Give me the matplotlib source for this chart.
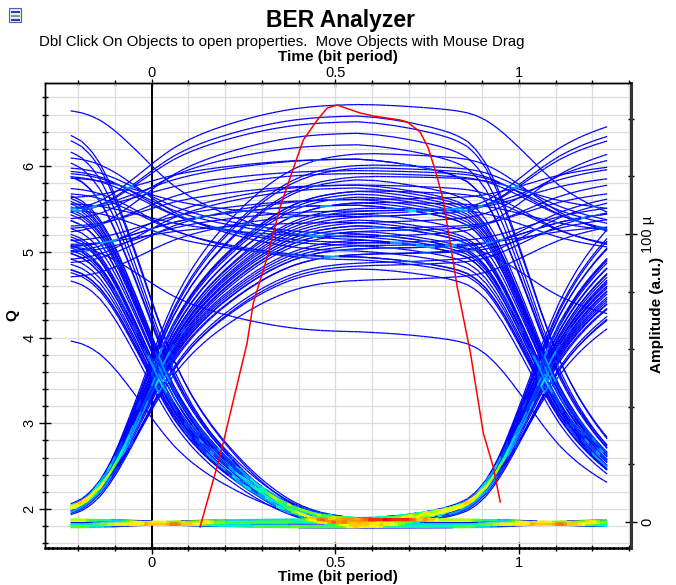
import numpy as np
import matplotlib.pyplot as plt
from matplotlib.collections import LineCollection
from matplotlib.colors import LinearSegmentedColormap, LogNorm
from matplotlib.patches import Rectangle
from matplotlib.ticker import MultipleLocator

plt.rcParams['font.family'] = ['Liberation Sans', 'DejaVu Sans']

# received amplitude of every bit, in transmission order (µ a.u.)
bit_levels = [
    118, 0.4, 104, 131, -1.4, 0.9, 97, 112, 126, -0.3,
    101, -1.9, 0.5, -0.6, 93, 108, 122, 99, 1.0, -1.1,
    115, 0.1, 88, -1.7, 106, 139, 1.2, 95, 110, -0.9,
    0.7, -2.1, 0.3, 102, 117, 91, -0.8, 124, 100, 1.1,
    96, -1.5, 0.2, 113, 1.3, 84, 107, 145, 98, -1.2,
    -0.1, -1.8, 109, 92, 0.6, 119, -0.5, 103, 0.8, -1.3,
    128, 94, -0.2, 111, 99, 135, -1.6, 1.0, -0.4, 105,
    -1.0, 90, 116, 0.6, -2.0, 101, 121, 97, 66, 0.3,
    114, -0.9, 1.1, -1.7, 0.1, 108, 126, 1.2, 93, 117,
    -1.3, -0.2, 103, -1.8, 89, 112, 0.5, 98, -0.5, -1.4,
    120, 106, 141, 0.0, 95, 110, -1.1, 0.9, -1.9, 100,
    0.2, 115, 92, -0.7, 107, 1.0, -1.5, 123, 96, 104,
    -0.3, -1.2, 111, 0.4,
]

# receiver step response vs. time from the bit edge (bit periods)
step_time = np.linspace(-0.50, 0.60, 45)
step_resp = [
    0.000, 0.002, 0.004, 0.007, 0.010, 0.014, 0.018, 0.023, 0.028, 0.034,
    0.041, 0.050, 0.063, 0.085, 0.118, 0.163, 0.218, 0.280, 0.345, 0.412,
    0.480, 0.543, 0.600, 0.648, 0.690, 0.727, 0.760, 0.790, 0.817, 0.843,
    0.867, 0.889, 0.909, 0.927, 0.943, 0.957, 0.968, 0.977, 0.984, 0.989,
    0.993, 0.996, 0.998, 0.999, 1.000,
]

# Q factor vs. decision instant
q_time = [0.132, 0.178, 0.195, 0.260, 0.277, 0.315, 0.350, 0.391, 0.413, 0.451,
          0.478, 0.505, 0.568, 0.604, 0.677, 0.696, 0.731, 0.753, 0.772, 0.794,
          0.832, 0.868, 0.903, 0.930, 0.949]
q_value = [1.790, 2.490, 2.770, 3.936, 4.402, 4.939, 5.522, 6.035, 6.303, 6.536,
           6.676, 6.711, 6.618, 6.583, 6.536, 6.513, 6.397, 6.210, 5.953, 5.604,
           4.589, 3.819, 2.886, 2.490, 2.082]

t_first, t_last = -0.22, 1.24
edge1, edge2 = 0.01, 1.06
t = np.linspace(t_first, t_last, 147)


def step(x):
    return np.interp(x, step_time, step_resp)


# one trace per window of three consecutive bits
traces = []
for k in range(len(bit_levels) - 2):
    a, b, c = bit_levels[k:k + 3]
    traces.append(a + (b - a) * step(t - edge1) + (c - b) * step(t - edge2))
traces = np.array(traces)

# hit density -> colour of each segment
dt = t[1] - t[0]
t_edges = np.concatenate(([t[0] - dt / 2], t + dt / 2))
a_edges = np.arange(-10, 156, 0.8)
H, _, _ = np.histogram2d(np.tile(t, len(traces)), traces.ravel(), bins=[t_edges, a_edges])
ti = np.arange(len(t))
segs, dens = [], []
for y in traces:
    ai = np.clip(np.digitize(y, a_edges) - 1, 0, H.shape[1] - 1)
    cnt = H[ti, ai]
    pts = np.column_stack([t, y])
    segs.append(np.stack([pts[:-1], pts[1:]], axis=1))
    dens.append(np.minimum(cnt[:-1], cnt[1:]))
segs = np.concatenate(segs)
dens = np.concatenate(dens)
order = np.argsort(dens, kind='stable')
segs, dens = segs[order], dens[order]

eye_cmap = LinearSegmentedColormap.from_list('eye', [
    (0.0, '#0000ff'), (0.3, '#0000ff'), (0.42, '#0070ff'), (0.52, '#00d0ff'),
    (0.6, '#00ffa0'), (0.68, '#60ff00'), (0.78, '#ffff00'), (0.9, '#ff8000'),
    (1.0, '#ff0000')])

fig = plt.figure(figsize=(6.76, 5.85), dpi=100)
ax = fig.add_axes([45 / 676, 1 - 547.5 / 585, 586 / 676, 464.5 / 585])
ax.set_xlim(-0.29, 1.305)
ax.set_ylim(1.551, 6.968)

ax.xaxis.set_minor_locator(MultipleLocator(0.1))
ax.yaxis.set_major_locator(MultipleLocator(1))
ax.yaxis.set_minor_locator(MultipleLocator(0.2))
ax.set_xticks([0, 0.5, 1], labels=['0', '0.5', '1'])
ax.grid(True, which='both', color='#dddddd', lw=0.9)
ax.set_axisbelow(True)
ax.tick_params(which='major', direction='inout', length=8, width=1, labelsize=10.5)
ax.tick_params(which='minor', direction='inout', length=5, width=1)
ax.tick_params(axis='x', pad=2)
ax.tick_params(axis='y', pad=2)
for lab in ax.get_yticklabels():
    lab.set_rotation(90)
    lab.set_va('center')
ax.set_xlabel('Time (bit period)', fontsize=11, fontweight='bold', va='center')
ax.xaxis.set_label_coords(0.5, (547.5 - 577) / 464.5)
ax.set_ylabel('Q', fontsize=11, fontweight='bold', va='center')
ax.yaxis.set_label_coords((12 - 45) / 586, 0.5)

top = ax.secondary_xaxis('top')
top.set_xticks([0, 0.5, 1], labels=['0', '0.5', '1'])
top.xaxis.set_minor_locator(MultipleLocator(0.1))
top.tick_params(which='major', direction='inout', length=6, width=1, labelsize=10.5, pad=-0.5)
top.tick_params(which='minor', direction='inout', length=4, width=1)
top.set_xlabel('Time (bit period)', fontsize=11, fontweight='bold', va='center')
top.xaxis.set_label_coords(0.5, 1 + (83 - 57) / 464.5, transform=ax.transAxes)

ax2 = ax.twinx()
lc = LineCollection(segs, array=dens, cmap=eye_cmap, norm=LogNorm(1, 20), linewidths=0.9)
ax2.add_collection(lc)
ax2.axvline(0, color='black', lw=1.4, zorder=1)
ax2.plot(q_time, q_value, color='#ff0000', lw=1.1, transform=ax.transData, zorder=3)
ax2.set_ylim(-8.85, 152.4)
ax2.set_xlim(-0.29, 1.305)
ax2.set_yticks([0, 100], labels=['0', '100 µ'])
ax2.yaxis.set_minor_locator(MultipleLocator(20))
ax2.tick_params(which='major', direction='inout', length=8, width=1, labelsize=10.5, pad=3)
ax2.tick_params(which='minor', direction='inout', length=5, width=1)
for lab in ax2.get_yticklabels():
    lab.set_rotation(90)
    lab.set_va('center')
ax2.set_ylabel('Amplitude (a.u.)', fontsize=11, fontweight='bold', va='center', rotation=90)
ax2.yaxis.set_label_coords((657 - 45) / 586, 0.5)

for a in (ax, ax2):
    for s in a.spines.values():
        s.set_color('black')
        s.set_linewidth(1.0)
ax2.spines['right'].set_linewidth(2.2)
ax2.spines['right'].set_color('#333333')
ax.spines['bottom'].set_linewidth(1.8)
ax.spines['bottom'].set_linestyle((0, (1, 0.7)))
ax2.spines['bottom'].set_visible(False)

fig.text(341 / 676, 1 - 20 / 585, 'BER Analyzer', ha='center', va='center',
         fontsize=16.5, fontweight='bold')
fig.text(282 / 676, 1 - 42 / 585,
         'Dbl Click On Objects to open properties.  Move Objects with Mouse Drag',
         ha='center', va='center', fontsize=10.8)

# small window icon in the corner
fig.add_artist(Rectangle((9 / 676, 1 - 22 / 585), 12 / 676, 14 / 585,
                         transform=fig.transFigure, facecolor='#e8ecf4', edgecolor='#5060a0', lw=0.8))
for yy, cc in ((11, '#2040c0'), (15, '#8090b0'), (19, '#2040c0')):
    fig.add_artist(Rectangle((10.5 / 676, 1 - (yy + 2) / 585), 9 / 676, 2 / 585,
                             transform=fig.transFigure, facecolor=cc, edgecolor='none'))

fig.savefig('out.png', dpi=100)
